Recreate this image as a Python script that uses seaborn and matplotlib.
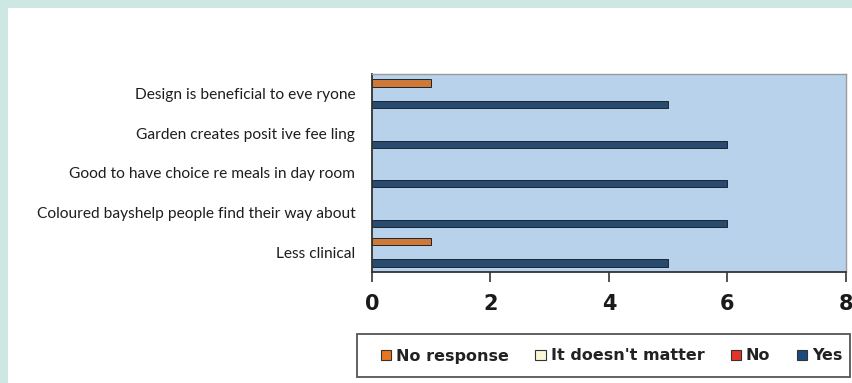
import matplotlib
matplotlib.use("Agg")
import matplotlib.pyplot as plt
from matplotlib.patches import Rectangle, Patch
import seaborn as sns
import pandas as pd

categories = [
    "Design is beneficial to everyone",
    "Garden creates positive feeling",
    "Good to have choice re meals in day room",
    "Coloured bays help people find their way about",
    "Less clinical",
]
category_labels = [
    "Design is beneficial to eve ryone",
    "Garden creates posit ive fee ling",
    "Good to have choice re meals in day room",
    "Coloured bayshelp people find their way about",
    "Less clinical",
]
series = ["No response", "It doesn't matter", "No", "Yes"]
no_response = [1, 0, 0, 0, 1]
doesnt_matter = [0, 0, 0, 0, 0]
no = [0, 0, 0, 0, 0]
yes = [5, 6, 6, 6, 5]
x_ticks = [0, 2, 4, 6, 8]

colors = ["#e8761f", "#fbf7d6", "#e5332a", "#1d4a7c"]

rows = []
for s, vals in zip(series, [no_response, doesnt_matter, no, yes]):
    for c, v in zip(categories, vals):
        rows.append({"category": c, "series": s, "value": v})
df = pd.DataFrame(rows)
df_draw = df[df["value"] > 0]

sns.set_style("white")
plt.rcParams["font.family"] = ["Lato", "DejaVu Sans"]

fig = plt.figure(figsize=(8.53, 3.83), dpi=100)
fig.patch.set_facecolor("#cde7e3")
fig.patches.append(Rectangle((8 / 853, 0), 1, (383 - 8) / 383, transform=fig.transFigure,
                             facecolor="white", edgecolor="none", zorder=-10))

ax = fig.add_axes([372 / 853, 1 - 272 / 383, (846 - 372) / 853, (272 - 74) / 383])
ax.set_zorder(2)
ax.set_facecolor("#b7d2ea")

sns.barplot(data=df_draw, x="value", y="category", hue="series",
            order=categories, hue_order=series, palette=dict(zip(series, colors)),
            orient="h", width=0.73, gap=0, dodge=True, errorbar=None,
            edgecolor="#1a2530", linewidth=0.7, legend=False, ax=ax)

ax.set_xlim(0, 8)
ax.set_ylim(4.5, -0.5)
ax.set_xticks(x_ticks)
ax.set_xticklabels([str(t) for t in x_ticks], fontsize=15, fontweight="bold",
                   family=["Liberation Sans Narrow", "DejaVu Sans"], color="#1a1a1a")
ax.set_yticks(range(len(categories)))
ax.set_yticklabels(category_labels, fontsize=11.2, color="#1e1e1e")
ax.set_yticks([i - 0.5 for i in range(len(categories) + 1)], minor=True)
ax.tick_params(axis="y", which="major", length=0, pad=12)
ax.tick_params(axis="y", which="minor", length=5, width=1, color="#333333", direction="out")
ax.tick_params(axis="x", which="major", length=7, width=1.3, color="#444444",
               direction="out", pad=9, bottom=True)
ax.set_xlabel("")
ax.set_ylabel("")

for side in ["top", "right"]:
    ax.spines[side].set_visible(True)
    ax.spines[side].set_color("#9a9a9a")
    ax.spines[side].set_linewidth(1.0)
for side in ["left", "bottom"]:
    ax.spines[side].set_visible(True)
    ax.spines[side].set_color("#333333")
    ax.spines[side].set_linewidth(1.3)

# legend frame
fig.patches.append(Rectangle((357 / 853, 1 - 377 / 383), 493 / 853, 43 / 383,
                             transform=fig.transFigure, facecolor="white",
                             edgecolor="#555555", linewidth=1.3, zorder=1))
handles = [Patch(facecolor=c, edgecolor="#333333", linewidth=0.8) for c in colors]
leg = fig.legend(handles, series, loc="center left",
                 bbox_to_anchor=(381 / 853, 1 - 356 / 383),
                 ncol=4, frameon=False,
                 handlelength=0.65, handleheight=0.65, handletextpad=0.3,
                 columnspacing=1.65, borderaxespad=0, borderpad=0,
                 prop={"family": "DejaVu Sans", "weight": "bold", "size": 11.5})
leg.set_zorder(3)
for t in leg.get_texts():
    t.set_color("#222222")

fig.savefig("out.png", dpi=100, facecolor=fig.get_facecolor())
